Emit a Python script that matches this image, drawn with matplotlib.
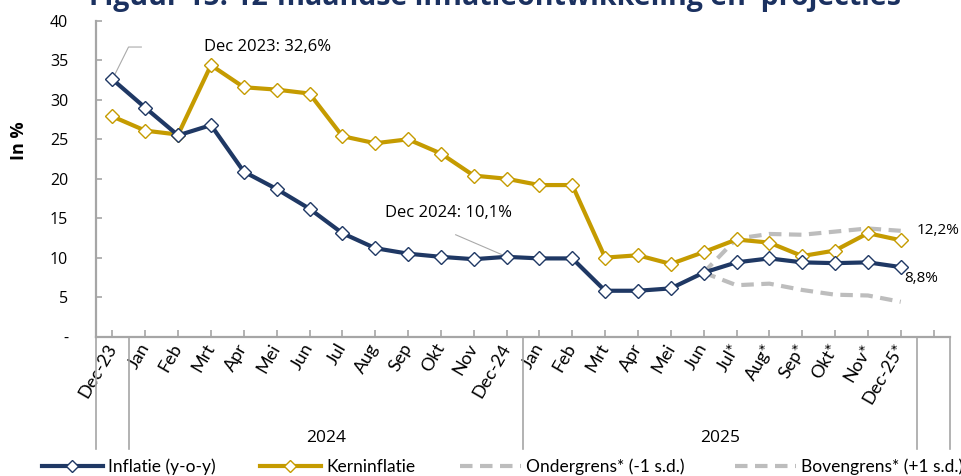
import matplotlib
matplotlib.use("Agg")
import matplotlib.pyplot as plt
from matplotlib.lines import Line2D
from matplotlib.transforms import blended_transform_factory

# ---- data ----
months = ["Dec-23", "Jan", "Feb", "Mrt", "Apr", "Mei", "Jun", "Jul", "Aug", "Sep", "Okt", "Nov", "Dec-24",
          "Jan", "Feb", "Mrt", "Apr", "Mei", "Jun", "Jul*", "Aug*", "Sep*", "Okt*", "Nov*", "Dec-25*", ""]
inflatie = [32.6, 29.0, 25.5, 26.8, 20.9, 18.7, 16.2, 13.1, 11.2, 10.5, 10.1, 9.8, 10.1,
            9.9, 9.9, 5.8, 5.8, 6.1, 8.1, 9.4, 9.9, 9.4, 9.3, 9.4, 8.8]
kern = [27.9, 26.1, 25.6, 34.4, 31.6, 31.3, 30.8, 25.4, 24.5, 25.0, 23.2, 20.4, 20.0,
        19.2, 19.2, 10.0, 10.3, 9.2, 10.7, 12.3, 11.9, 10.2, 10.9, 13.1, 12.2]
proj_start = 18
onder = [8.1, 6.5, 6.7, 5.9, 5.3, 5.2, 4.4]
boven = [8.1, 12.4, 13.0, 12.9, 13.3, 13.7, 13.4]
years = ["2024", "2025"]
yticks = [0, 5, 10, 15, 20, 25, 30, 35, 40]
ytick_labels = ["-", "5", "10", "15", "20", "25", "30", "35", "40"]

NAVY = "#1F3864"
GOLD = "#C59B00"
GRAY = "#BDBDBD"
AXC = "#A6A6A6"
NARROW = ["Lato", "DejaVu Sans"]
SANS = ["Open Sans", "DejaVu Sans"]

fig = plt.figure(figsize=(9.62, 4.76), dpi=100)
ax = fig.add_axes([96 / 962, (476 - 336.5) / 476, (950 - 96) / 962, (336.5 - 21) / 476])

x = list(range(len(inflatie)))
xp = list(range(proj_start, proj_start + len(onder)))

dash = (3.0, 1.8)
ax.plot(xp, onder, color=GRAY, lw=3, dashes=dash, zorder=2)
ax.plot(xp, boven, color=GRAY, lw=3, dashes=dash, zorder=2)
ax.plot(x, kern, color=GOLD, lw=3, marker="D", ms=7, mfc="white", mec=GOLD, mew=1, zorder=3)
ax.plot(x, inflatie, color=NAVY, lw=3, marker="D", ms=7, mfc="white", mec=NAVY, mew=1, zorder=4)

ax.set_xlim(-0.5, len(months) - 0.5)
ax.set_ylim(0, 40)
ax.set_yticks(yticks)
ax.set_yticklabels(ytick_labels, family=SANS, fontsize=11.5)
ax.set_xticks(range(len(months)))
ax.set_xticklabels(months, rotation=60, ha="right", va="center", rotation_mode="anchor",
                   family=NARROW, fontsize=13)
ax.tick_params(axis="y", direction="in", length=4, width=1.2, color=AXC, pad=20)
ax.tick_params(axis="x", direction="in", length=5, width=1.2, color=AXC, pad=6)
for s in ["top", "right"]:
    ax.spines[s].set_visible(False)
for s in ["left", "bottom"]:
    ax.spines[s].set_color(AXC)
    ax.spines[s].set_linewidth(1.6)

ax.set_ylabel("In %", family=SANS, fontsize=13, fontweight="bold")
ax.yaxis.set_label_coords(-68 / 854, 0.62)

# group separators and year labels below axis
tr = blended_transform_factory(ax.transData, fig.transFigure)
y_low = (476 - 449) / 476
for b in [-0.5, 0.5, 12.5, 24.5, 25.5]:
    fig.add_artist(Line2D([b, b], [(476 - 336.5) / 476, y_low], transform=tr, color=AXC, lw=1.2))
for yr, c in zip(years, [6.5, 18.5]):
    fig.text(c, (476 - 438) / 476, yr, transform=tr, ha="center", va="center",
             family=SANS, fontsize=12.5)

# annotations
lc = "#AAAAAA"
ax.plot([0, 0.49, 0.88], [inflatie[0], 36.7, 36.7], color=lc, lw=0.8, zorder=1, clip_on=False)
ax.text(2.8, 36.7, "Dec 2023: 32,6%", family=SANS, fontsize=12, va="center", ha="left")
ax.plot([10.45, 11.9], [12.9, 10.3], color=lc, lw=0.8, zorder=1)
ax.text(8.3, 15.65, "Dec 2024: 10,1%", family=SANS, fontsize=12, va="center", ha="left")
ax.text(24.5, 13.4, "12,2%", family=SANS, fontsize=11, va="center", ha="left")
ax.text(24.1, 7.3, "8,8%", family=SANS, fontsize=11, va="center", ha="left")

# title (cut off at top as in reference)
fig.text(0.5 * (83 + 907) / 962, 1 - 5 / 476, "Figuur 15: 12-maandse inflatieontwikkeling en  projecties",
         ha="center", va="baseline", family=SANS, fontsize=20.5, fontweight="bold", color="#1B3160")

# legend (one entry per legend so each sits where the reference has it)
handles = [
    Line2D([], [], color=NAVY, lw=3, marker="D", ms=6, mfc="white", mec=NAVY),
    Line2D([], [], color=GOLD, lw=3, marker="D", ms=6, mfc="white", mec=GOLD),
    Line2D([], [], color=GRAY, lw=3, dashes=dash),
    Line2D([], [], color=GRAY, lw=3, dashes=dash),
]
labels = ["Inflatie (y-o-y)", "Kerninflatie", "Ondergrens* (-1 s.d.)", "Bovengrens* (+1 s.d.)"]
starts = [42, 260, 460, 735]
for h, l, s in zip(handles, labels, starts):
    fig.legend([h], [l], loc="center left", bbox_to_anchor=(s / 962, 9 / 476),
               frameon=False, prop={"family": NARROW, "size": 12.5}, handlelength=3.5,
               handletextpad=0.3, borderpad=0, borderaxespad=0, numpoints=1)

fig.savefig("out.png", dpi=100)
